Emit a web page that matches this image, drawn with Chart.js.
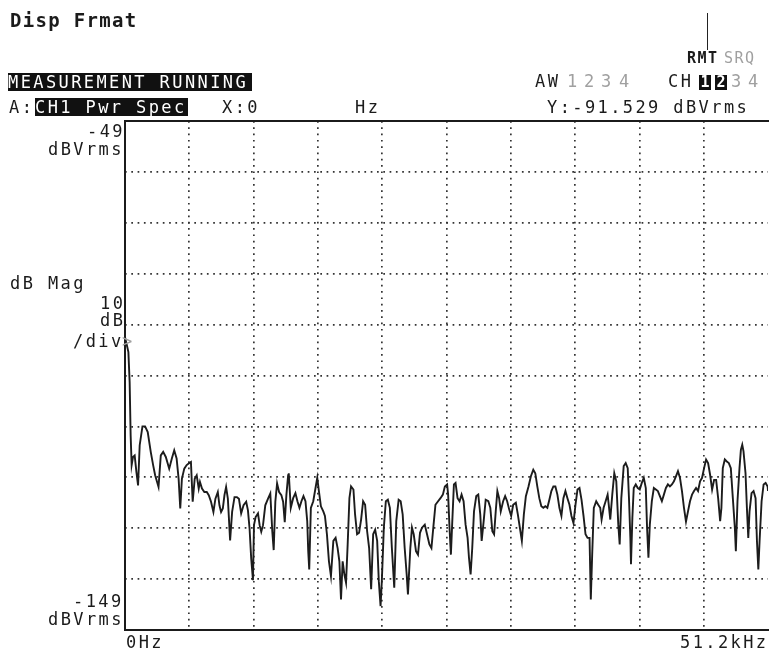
<!DOCTYPE html>
<html>
<head>
<meta charset="utf-8">
<title>Disp Frmat - CH1 Pwr Spec</title>
<script src="https://cdn.jsdelivr.net/npm/chart.js@4.4.0/dist/chart.umd.min.js"></script>
<style>
    html, body { margin: 0; padding: 0; background: #fff; overflow: hidden; }
    #screen { position: absolute; left: 0; top: 0; width: 769px; height: 649px; }
    #plot { position: absolute; left: 0; top: 0; width: 769px; height: 649px; }
    .t {
        position: absolute;
        font-family: 'DejaVu Sans Mono', monospace;
        font-size: 17px;
        line-height: 17px;
        letter-spacing: 2.4px;
        color: #1b1b1b;
        white-space: pre;
    }
    .title { font-size: 19px; line-height: 19px; letter-spacing: 1.3px; font-weight: bold; }
    .flag { font-size: 15px; line-height: 15px; letter-spacing: 1.5px; font-weight: bold; }
    .dim { color: #a0a0a0; font-weight: normal; }
    .inv { background: #111; color: #fff; height: 18px; line-height: 18px; }
    .key { background: #111; color: #fff; font-weight: bold; text-align: center; letter-spacing: 0; font-size: 15px; }
    .marker { position: absolute; left: 707px; top: 13px; width: 1px; height: 37px; background: #222; }
</style>
</head>
<body>
<div id="screen">
    <canvas id="plot" width="769" height="649"></canvas>
    <div class="marker"></div>
</div>
<script>
// trace, 0 Hz .. 51.2 kHz
const freqKHz = [
    0, 0.19, 0.27, 0.37, 0.45, 0.53, 0.64, 0.77, 0.91, 1.04, 1.17, 1.39, 1.60, 1.81, 2.05, 2.24, 2.40, 2.67, 2.85, 3.04,
    3.25, 3.52, 3.73, 3.92, 4.11, 4.27, 4.40, 4.53, 4.72, 4.91, 5.07, 5.25, 5.39, 5.55, 5.71, 5.87, 5.97, 6.13, 6.32, 6.51,
    6.67, 6.85, 7.04, 7.20, 7.39, 7.52, 7.65, 7.79, 7.92, 8.05, 8.19, 8.37, 8.53, 8.72, 8.91, 9.07, 9.25, 9.44, 9.65, 9.79,
    9.92, 10.05, 10.19, 10.27, 10.40, 10.59, 10.72, 10.85, 10.99, 11.17, 11.39, 11.57, 11.73, 11.84, 11.97, 12.11, 12.27, 12.45, 12.59, 12.72,
    12.85, 12.99, 13.04, 13.20, 13.39, 13.57, 13.73, 13.89, 14.05, 14.21, 14.37, 14.51, 14.59, 14.67, 14.80, 14.99, 15.17, 15.31, 15.44, 15.60,
    15.79, 15.92, 16.08, 16.24, 16.40, 16.59, 16.77, 16.93, 17.07, 17.20, 17.33, 17.47, 17.60, 17.73, 17.87, 18.00, 18.19, 18.32, 18.48, 18.64,
    18.80, 18.96, 19.12, 19.28, 19.44, 19.60, 19.76, 19.92, 20.08, 20.21, 20.35, 20.45, 20.61, 20.77, 20.93, 21.09, 21.25, 21.44, 21.60, 21.79,
    21.95, 22.11, 22.27, 22.43, 22.53, 22.72, 22.85, 22.99, 23.17, 23.33, 23.49, 23.65, 23.87, 24.05, 24.24, 24.40, 24.56, 24.72, 24.93, 25.12,
    25.31, 25.47, 25.65, 25.73, 25.84, 25.95, 26.05, 26.19, 26.32, 26.48, 26.64, 26.80, 26.96, 27.12, 27.28, 27.39, 27.52, 27.65, 27.79, 27.97,
    28.13, 28.29, 28.40, 28.56, 28.72, 28.93, 29.09, 29.25, 29.39, 29.52, 29.65, 29.79, 29.92, 30.11, 30.27, 30.43, 30.59, 30.75, 30.91, 31.12,
    31.28, 31.44, 31.60, 31.76, 31.92, 32.13, 32.32, 32.51, 32.67, 32.83, 32.99, 33.15, 33.31, 33.47, 33.63, 33.79, 33.95, 34.11, 34.27, 34.43,
    34.59, 34.75, 34.91, 35.07, 35.23, 35.39, 35.55, 35.71, 35.87, 36.03, 36.19, 36.35, 36.51, 36.67, 36.83, 36.99, 37.09, 37.20, 37.33, 37.52,
    37.68, 37.84, 37.95, 38.11, 38.27, 38.43, 38.52, 38.64, 38.80, 38.96, 39.12, 39.28, 39.39, 39.52, 39.71, 39.87, 40.03, 40.13, 40.24, 40.29,
    40.40, 40.51, 40.67, 40.83, 40.99, 41.15, 41.31, 41.47, 41.57, 41.68, 41.79, 41.95, 42.11, 42.27, 42.43, 42.59, 42.75, 42.91, 43.07, 43.23,
    43.39, 43.55, 43.71, 43.87, 44.03, 44.19, 44.35, 44.51, 44.67, 44.83, 44.99, 45.15, 45.31, 45.47, 45.63, 45.79, 45.95, 46.11, 46.27, 46.43,
    46.59, 46.75, 46.91, 47.07, 47.23, 47.39, 47.49, 47.60, 47.76, 47.92, 48.08, 48.24, 48.40, 48.56, 48.64, 48.77, 48.93, 49.04, 49.15, 49.25,
    49.41, 49.52, 49.63, 49.73, 49.89, 50.05, 50.21, 50.32, 50.43, 50.53, 50.69, 50.85, 51.01, 51.17, 51.20
];

const magDbVrms = [
    -91.5, -93.5, -94.4, -100.3, -110.8, -116.6, -115.0, -114.7, -118.0, -120.6, -112.7, -109.0, -109.0, -110.1, -114.0, -116.6, -118.6, -120.9, -114.7, -114.0,
    -115.0, -117.3, -115.3, -113.7, -115.3, -119.3, -125.1, -119.3, -117.3, -116.6, -116.3, -116.0, -123.8, -119.3, -118.6, -121.2, -119.9, -121.2, -121.9, -121.9,
    -122.5, -123.8, -125.8, -123.2, -121.9, -124.5, -125.8, -125.1, -122.5, -120.9, -123.2, -131.4, -125.8, -122.9, -122.9, -123.2, -126.1, -124.5, -123.8, -125.5,
    -129.1, -135.0, -139.2, -128.4, -126.8, -126.1, -128.4, -129.7, -128.4, -124.5, -123.2, -122.2, -129.7, -133.3, -123.8, -120.2, -121.9, -122.5, -123.8, -127.8,
    -122.5, -118.6, -118.2, -125.0, -123.1, -122.1, -123.7, -125.0, -123.7, -122.7, -123.7, -127.6, -133.5, -137.1, -125.0, -123.7, -121.1, -119.1, -121.7, -124.7,
    -125.7, -126.6, -130.2, -135.5, -138.4, -131.5, -130.9, -132.9, -135.5, -143.0, -135.5, -138.1, -139.7, -132.2, -123.1, -120.8, -121.4, -126.3, -130.2, -129.9,
    -127.3, -123.7, -124.4, -129.6, -132.9, -141.0, -130.2, -129.3, -131.5, -139.4, -144.3, -139.4, -128.9, -123.7, -123.4, -125.0, -132.9, -140.7, -127.6, -123.4,
    -123.7, -126.3, -132.9, -138.1, -142.0, -132.9, -128.9, -130.2, -133.5, -134.2, -129.9, -128.9, -128.3, -130.2, -132.2, -132.9, -128.6, -124.4, -123.7, -123.1,
    -122.4, -120.8, -120.4, -122.4, -128.9, -134.2, -128.3, -120.4, -120.1, -123.1, -123.7, -122.4, -123.7, -128.3, -130.9, -134.8, -138.1, -132.9, -125.7, -122.7,
    -122.4, -126.3, -131.5, -127.6, -123.4, -123.7, -125.0, -129.6, -130.2, -125.7, -121.7, -123.1, -125.7, -123.7, -122.7, -123.7, -125.3, -126.6, -124.4, -124.0,
    -126.3, -128.9, -131.5, -126.3, -122.7, -120.8, -118.8, -117.5, -118.2, -120.8, -123.1, -124.7, -125.0, -124.7, -125.0, -123.4, -121.7, -120.8, -120.8, -122.4,
    -125.0, -126.6, -123.1, -121.7, -123.1, -124.4, -126.6, -128.0, -124.4, -121.4, -121.1, -123.4, -126.6, -130.2, -130.9, -130.9, -143.0, -134.2, -125.0, -123.7,
    -124.4, -125.0, -127.3, -125.0, -123.7, -122.4, -124.4, -127.3, -122.4, -118.2, -119.8, -128.3, -132.2, -123.1, -116.8, -116.2, -117.2, -123.1, -130.9, -136.1,
    -127.0, -121.1, -120.4, -121.1, -121.4, -120.1, -119.1, -121.1, -128.9, -134.8, -128.3, -123.7, -121.1, -121.4, -121.7, -122.7, -123.7, -122.4, -121.1, -120.4,
    -120.8, -120.4, -119.8, -118.8, -117.8, -119.1, -121.7, -125.0, -127.7, -125.7, -123.7, -122.4, -121.7, -121.1, -121.7, -119.8, -119.1, -117.2, -115.5, -116.2,
    -118.5, -121.4, -119.5, -119.5, -123.1, -127.6, -125.0, -117.2, -115.5, -115.9, -116.2, -117.2, -123.1, -128.9, -133.5, -123.7, -117.2, -113.6, -112.6, -113.9,
    -118.2, -125.0, -130.9, -125.7, -122.1, -121.7, -123.1, -131.5, -137.1, -131.5, -123.7, -120.4, -120.1, -120.8, -121.7
];

// axis range: 10 dB/div from -49 to -149 dBVrms, 0 to 51.2 kHz span
const yTop = -49;
const yBottom = -149;
const spanKHz = 51.2;
const divisions = 10;

// screen annotations: [text, left, baseline, classes]
const screenText = [
    ['Disp Frmat', 10, 27, 'title'],
    ['RMT', 687, 64, 'flag'],
    ['SRQ', 724, 64, 'flag dim'],
    ['AW', 535, 87, ''],
    ['1', 567, 87, 'dim'],
    ['2', 584, 87, 'dim'],
    ['3', 601, 87, 'dim'],
    ['4', 619, 87, 'dim'],
    ['CH', 668, 87, ''],
    ['3', 731, 87, 'dim'],
    ['4', 748, 87, 'dim'],
    ['A:', 9, 113, ''],
    ['X:0', 222, 113, ''],
    ['Hz', 355, 113, ''],
    ['Y:-91.529 dBVrms', 547, 113, ''],
    ['-49', 87, 137, ''],
    ['dBVrms', 48, 155, ''],
    ['dB Mag', 10, 289, ''],
    ['10', 100, 309, ''],
    ['dB', 100, 326, ''],
    ['/div', 73, 347, ''],
    ['>', 122, 347, 'dim'],
    ['-149', 73, 607, ''],
    ['dBVrms', 48, 625, ''],
    ['0Hz', 126, 648, ''],
    ['51.2kHz', 680, 648, '']
];

const screen = document.getElementById('screen');

const addText = (text, left, baseline, cls) => {
    const el = document.createElement('div');
    el.className = ('t ' + cls).trim();
    el.textContent = text;
    screen.appendChild(el);
    const size = parseFloat(getComputedStyle(el).fontSize);
    el.style.left = left + 'px';
    el.style.top = (baseline - 0.846 * size) + 'px';
    return el;
};

screenText.forEach(([text, left, baseline, cls]) => addText(text, left, baseline, cls));

// inverse video blocks
const addInverse = (text, left, top, width, height, cls) => {
    const el = document.createElement('div');
    el.className = 't ' + cls;
    el.textContent = text;
    el.style.left = left + 'px';
    el.style.top = top + 'px';
    el.style.width = width + 'px';
    el.style.height = height + 'px';
    el.style.lineHeight = height + 'px';
    screen.appendChild(el);
};

addInverse('MEASUREMENT RUNNING', 8, 73, 244, 18, 'inv');
addInverse('CH1 Pwr Spec', 35, 98, 153, 18, 'inv');
addInverse('1', 699, 75, 12, 15, 'key');
addInverse('2', 715, 75, 12, 15, 'key');

// solid frame on top, left and bottom like the analyzer graticule
const framePlugin = {
    id: 'frame',
    afterDatasetsDraw(chart) {
        const { ctx, chartArea: a } = chart;
        ctx.save();
        ctx.strokeStyle = '#1b1b1b';
        ctx.lineWidth = 2;
        ctx.beginPath();
        ctx.moveTo(a.right + 2, a.top);
        ctx.lineTo(a.left, a.top);
        ctx.lineTo(a.left, a.bottom);
        ctx.lineTo(a.right + 2, a.bottom);
        ctx.stroke();
        ctx.restore();
    }
};

const gridColor = (c) => (c.index === 0 || c.index === divisions) ? 'rgba(0,0,0,0)' : '#333';

new Chart(document.getElementById('plot'), {
    type: 'line',
    data: {
        datasets: [{
            data: freqKHz.map((f, i) => ({ x: f, y: magDbVrms[i] })),
            borderColor: '#1c1c1c',
            borderWidth: 1.9,
            pointRadius: 0,
            tension: 0,
            fill: false
        }]
    },
    options: {
        responsive: false,
        animation: false,
        events: [],
        layout: { padding: { left: 125, top: 121, right: 1, bottom: 19 } },
        plugins: { legend: { display: false }, tooltip: { enabled: false } },
        scales: {
            x: {
                type: 'linear',
                min: 0,
                max: spanKHz,
                ticks: { display: false, count: divisions + 1 },
                grid: { color: gridColor, lineWidth: 1.7, drawTicks: false },
                border: { display: false, dash: [1.7, 4.6] },
                afterFit: (s) => { s.height = 0; }
            },
            y: {
                min: yBottom,
                max: yTop,
                ticks: { display: false, stepSize: 10 },
                grid: { color: gridColor, lineWidth: 1.7, drawTicks: false },
                border: { display: false, dash: [1.7, 4.6] },
                afterFit: (s) => { s.width = 0; }
            }
        }
    },
    plugins: [framePlugin]
});
</script>
</body>
</html>
